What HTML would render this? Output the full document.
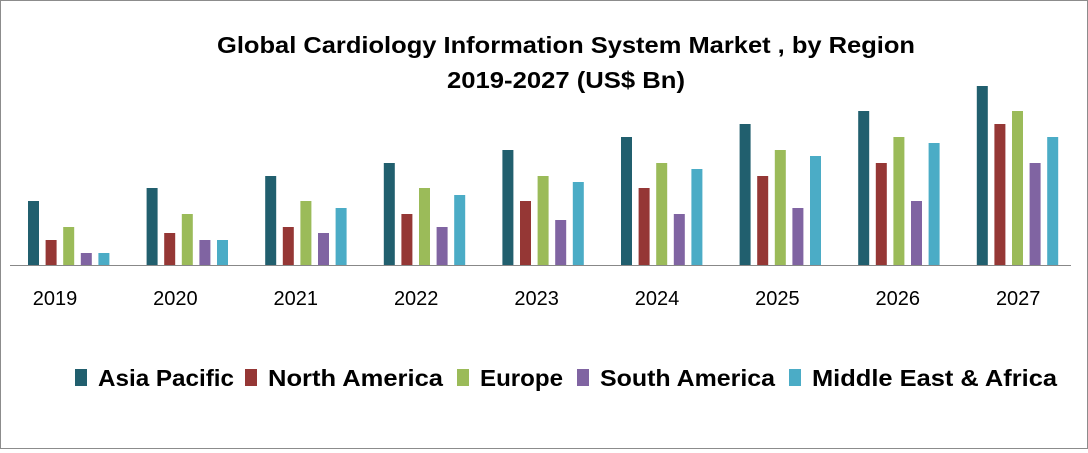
<!DOCTYPE html>
<html><head><meta charset="utf-8"><style>
body{margin:0;background:#fff;}
#c{position:relative;width:1086px;height:447px;border:1px solid #8c8c8c;font-family:"Liberation Sans",sans-serif;}
</style></head><body>
<div id="c">
<svg id="svg" width="1086" height="447">
<text x="216" y="52" textLength="698" lengthAdjust="spacingAndGlyphs" font-size="23" font-weight="bold" fill="#000">Global Cardiology Information System Market  , by Region</text>
<text x="446" y="87" textLength="238" lengthAdjust="spacingAndGlyphs" font-size="23" font-weight="bold" fill="#000">2019-2027 (US$ Bn)</text>
<line x1="9" y1="264.5" x2="1070" y2="264.5" stroke="#888" stroke-width="1"/>
<g id="bars"></g><g id="xl"></g><g id="leg"></g>
</svg>
</div>
<script>
const categories=["2019","2020","2021","2022","2023","2024","2025","2026","2027"];
const seriesNames=["Asia Pacific","North America","Europe","South America","Middle East & Africa"];
const colors=["#215f6e","#953735","#9bbb59","#8064a2","#4bacc6"];
const asiaPacific=[0.64,0.77,0.89,1.02,1.15,1.28,1.41,1.54,1.79];
const northAmerica=[0.25,0.32,0.38,0.51,0.64,0.77,0.89,1.02,1.41];
const europe=[0.38,0.51,0.64,0.77,0.89,1.02,1.15,1.28,1.54];
const southAmerica=[0.12,0.25,0.32,0.38,0.45,0.51,0.57,0.64,1.02];
const middleEastAfrica=[0.12,0.25,0.57,0.70,0.83,0.96,1.09,1.22,1.28];
const series=[asiaPacific,northAmerica,europe,southAmerica,middleEastAfrica];
const NS="http://www.w3.org/2000/svg";
const base=264, pxPerUnit=100;
function y(v){return base-v*pxPerUnit;}
function groupX(i){return 27+i*118.6;}
const bars=document.getElementById('bars');
categories.forEach((c,i)=>{
 series.forEach((s,k)=>{
  const r=document.createElementNS(NS,'rect');
  r.setAttribute('x',groupX(i)+k*17.6);
  r.setAttribute('width',11);
  r.setAttribute('y',y(s[i]));
  r.setAttribute('height',base-y(s[i]));
  r.setAttribute('fill',colors[k]);
  
  
  bars.appendChild(r);
 });
 const t=document.createElementNS(NS,'text');
 t.setAttribute('x',54+i*120.4);t.setAttribute('y',304);
 t.setAttribute('text-anchor','middle');t.setAttribute('font-size','20');
 t.textContent=c;
 
 
 document.getElementById('xl').appendChild(t);
});
const legX=[74,244,456,576,788];
const legW=[136,175,83,175,245];
const leg=document.getElementById('leg');
seriesNames.forEach((n,k)=>{
 const r=document.createElementNS(NS,'rect');
 r.setAttribute('x',legX[k]);r.setAttribute('y',368);r.setAttribute('width',12);r.setAttribute('height',17);
 r.setAttribute('fill',colors[k]);
 
 
 leg.appendChild(r);
 const t=document.createElementNS(NS,'text');
 t.setAttribute('x',legX[k]+23);t.setAttribute('y',385);
 t.setAttribute('font-size','23');t.setAttribute('font-weight','bold');
 t.setAttribute('textLength',legW[k]);t.setAttribute('lengthAdjust','spacingAndGlyphs');
 t.textContent=n;
 
 
 leg.appendChild(t);
});
</script>
</body></html>
